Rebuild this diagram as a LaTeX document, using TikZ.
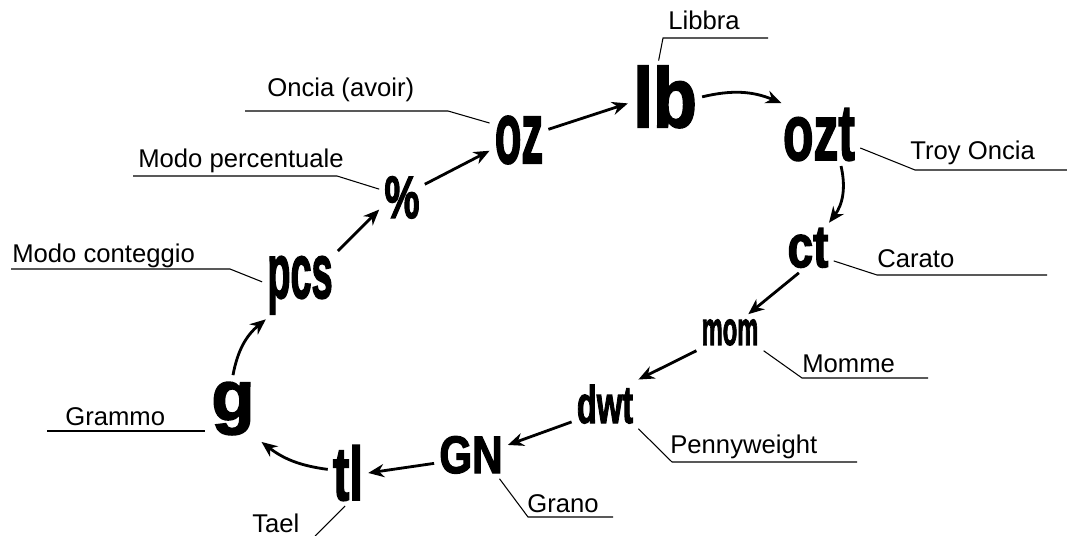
\documentclass[tikz,border=0pt]{standalone}
\usepackage{fontspec}
\usepackage{graphicx}
\setmainfont{Liberation Sans}
\newfontfamily\unitfont{Liberation Sans}[BoldFeatures={FakeBold=2.5}]
\usetikzlibrary{positioning, calc, arrows.meta}
\tikzset{unit/.style={font=\unitfont\bfseries, inner sep=0pt, outer sep=3pt, anchor=base}}
\tikzset{lbl/.style={font=\fontsize{14.6}{14.6}\selectfont, inner sep=0pt, anchor=base west}}
\tikzset{flow/.style={-{Stealth[length=9pt, width=7.5pt]}, line width=1.6pt}}
\tikzset{leader/.style={line width=0.6pt}}
\newcommand\unitsym[3]{{\fontsize{#1}{#1}\selectfont\scalebox{#2}[1]{#3}}}

\begin{document}
\begin{tikzpicture}[x=0.02cm, y=-0.02cm]

      \useasboundingbox (0,0) rectangle (1067,536);

      % UNITS

      \node[unit] (lb)  at (665,127) {\unitsym{48pt}{0.85}{lb}};
      \node[unit] (ozt) at (819,160) {\unitsym{45pt}{0.63}{ozt}};
      \node[unit] (ct)  at (808,267) {\unitsym{34pt}{0.77}{ct}};
      \node[unit] (mom) at (730,345) {\unitsym{27pt}{0.5}{mom}};
      \node[unit] (dwt) at (605,423) {\unitsym{30pt}{0.62}{dwt}};
      \node[unit] (GN)  at (471,473) {\unitsym{30pt}{0.8}{GN}};
      \node[unit] (tl)  at (348,500) {\unitsym{43pt}{0.65}{tl}};
      \node[unit, outer sep=4pt] (g) at (233,420) {\unitsym{40pt}{1}{g}};
      \node[unit] (pcs) at (300,298) {\unitsym{44pt}{0.49}{pcs}};
      \node[unit] (pct) at (402,218) {\unitsym{34pt}{0.66}{\%}};
      \node[unit] (oz)  at (519,163) {\unitsym{49.5pt}{0.5}{oz}};

      % LABELS

      \node[lbl] (t-lb)  at (668,30)  {Libbra};
      \node[lbl] (t-ozt) at (910,160) {Troy Oncia};
      \node[lbl] (t-ct)  at (877,268) {Carato};
      \node[lbl] (t-mom) at (802,373) {Momme};
      \node[lbl] (t-dwt) at (670,453) {Pennyweight};
      \node[lbl] (t-GN)  at (527,512) {Grano};
      \node[lbl] (t-tl)  at (252,532) {Tael};
      \node[lbl] (t-g)   at (65,425)  {Grammo};
      \node[lbl] (t-pcs) at (12,263)  {Modo conteggio};
      \node[lbl] (t-pct) at (138,168) {Modo percentuale};
      \node[lbl] (t-oz)  at (267,97)  {Oncia (avoir)};

      % LEADERS

      \coordinate (k-lb)  at (663,38);   \coordinate (e-lb)  at (768,38);
      \coordinate (k-ozt) at (915,170);  \coordinate (e-ozt) at (1067,170);
      \coordinate (k-ct)  at (877,275);  \coordinate (e-ct)  at (1047,275);
      \coordinate (k-mom) at (802,378);  \coordinate (e-mom) at (928,378);
      \coordinate (k-dwt) at (672,462);  \coordinate (e-dwt) at (857,462);
      \coordinate (k-GN)  at (528,517);  \coordinate (e-GN)  at (613,517);
      \coordinate (e-tl)  at (315,536);
      \coordinate (e-g)   at (47,431);
      \coordinate (k-pcs) at (230,269);  \coordinate (e-pcs) at (11,269);
      \coordinate (k-pct) at (337,176);  \coordinate (e-pct) at (133,176);
      \coordinate (k-oz)  at (448,111);  \coordinate (e-oz)  at (245,111);

      \draw[leader] (lb.100) -- (k-lb) -- (e-lb);
      \draw[leader] (ozt.-18) -- (k-ozt) -- (e-ozt);
      \draw[leader] (ct.-27) -- (k-ct) -- (e-ct);
      \draw[leader] (mom.south east) -- (k-mom) -- (e-mom);
      \draw[leader] (dwt.south east) -- (k-dwt) -- (e-dwt);
      \draw[leader] (GN.-40) -- (k-GN) -- (e-GN);
      \draw[leader] (tl.-95) -- (e-tl);
      \draw[leader] (e-g) -- (e-g -| g.west);
      \draw[leader] (pcs.175) -- (k-pcs) -- (e-pcs);
      \draw[leader] (pct.160) -- (k-pct) -- (e-pct);
      \draw[leader] (oz.150) -- (k-oz) -- (e-oz);

      % ARROWS

      \draw[flow] (lb.east) to[bend left=18] (ozt.140);
      \draw[flow] (ozt.-55) to[bend left=25] (ct.50);
      \draw[flow] (ct.-110) -- (mom.45);
      \draw[flow] (mom.south west) -- (dwt.north east);
      \draw[flow] (dwt.208) -- (GN.15);
      \draw[flow] (GN.193) -- (tl.east);
      \draw[flow] (tl.170) to[bend left=15] (g.south east);
      \draw[flow] (g.north) to[bend left=20] (pcs.225);
      \draw[flow] (pcs.north east) -- (pct.208);
      \draw[flow] (pct.30) -- (oz.200);
      \draw[flow] (oz.20) -- (lb.190);
    \end{tikzpicture}
\end{document}
